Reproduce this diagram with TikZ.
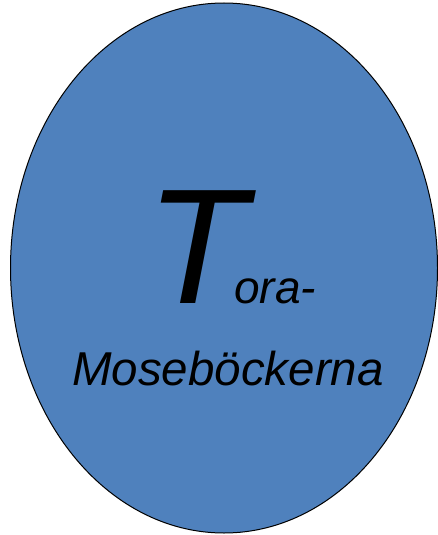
\documentclass[tikz,border=0pt]{standalone}
\usepackage{fontspec}
\setmainfont{Liberation Sans}
\usetikzlibrary{shapes.geometric}
\definecolor{torablue}{HTML}{4F81BD}
\tikzset{
  toraoval/.style={draw=black, fill=torablue, ellipse, line width=1pt, minimum width=427pt, minimum height=530pt, inner sep=0pt},
  bigletter/.style={inner sep=0pt, font=\fontsize{164}{170}\selectfont\itshape},
  bodytext/.style={inner sep=0pt, font=\fontsize{46}{50}\selectfont\itshape}
}
\begin{document}
\begin{tikzpicture}[x=1pt,y=-1pt]
\useasboundingbox (0,0) rectangle (438,535);
\node[toraoval] (oval) at (224,268) {};
\node[bigletter, anchor=base] (initial) at (197,303) {T};
\node[bodytext, anchor=base west] (rest) at (234,303) {ora-};
\node[bodytext, anchor=base, font=\fontsize{47.5}{50}\selectfont\itshape] (books) at (228,385) {Moseböckerna};
\end{tikzpicture}
\end{document}
